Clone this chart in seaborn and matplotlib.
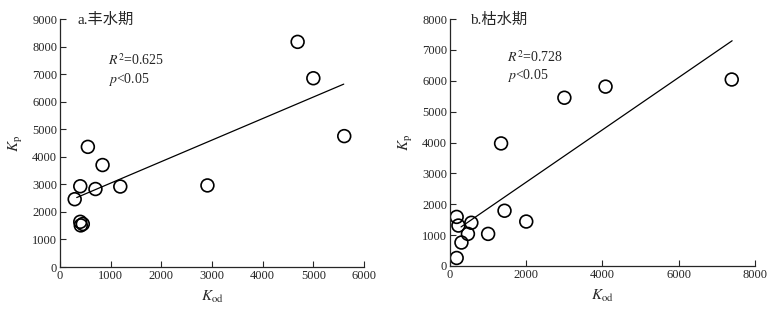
import numpy as np
import pandas as pd
import seaborn as sns
import matplotlib.pyplot as plt

# --- data --------------------------------------------------------------------
# a. wet season (丰水期)
kod_wet = [290, 400, 400, 410, 450, 550, 700, 840, 1190, 2910, 4690, 5000, 5610]
kp_wet = [2460, 2930, 1640, 1510, 1560, 4360, 2830, 3700, 2920, 2960, 8170, 6850, 4750]
fit_wet = (0.781, 2263)          # slope, intercept
fit_wet_range = (330, 5600)

# b. dry season (枯水期)
kod_dry = [175, 175, 220, 300, 470, 560, 1000, 1340, 1430, 2000, 3000, 4080, 7390]
kp_dry = [260, 1590, 1310, 760, 1040, 1400, 1040, 3970, 1790, 1440, 5450, 5810, 6040]
fit_dry = (0.848, 1020)
fit_dry_range = (290, 7400)

panels = [
    dict(x=kod_wet, y=kp_wet, fit=fit_wet, rng=fit_wet_range, title='a.丰水期',
         r2='0.625', xmax=6000, xstep=1000, ymax=9000,
         pos=[60 / 777, 46 / 313, 304 / 777, 248 / 313],
         title_xy=(0.056, 0.995), r2_xy=(0.158, 0.835), p_xy=(0.158, 0.758)),
    dict(x=kod_dry, y=kp_dry, fit=fit_dry, rng=fit_dry_range, title='b.枯水期',
         r2='0.728', xmax=8000, xstep=2000, ymax=8000,
         pos=[450 / 777, 47 / 313, 305 / 777, 247 / 313],
         title_xy=(0.066, 0.995), r2_xy=(0.187, 0.846), p_xy=(0.187, 0.773)),
]

sns.set_style('ticks')
plt.rcParams['font.family'] = ['Liberation Serif', 'Noto Sans CJK SC']
plt.rcParams['mathtext.fontset'] = 'stix'

fig = plt.figure(figsize=(7.77, 3.13), dpi=100)

for p in panels:
    ax = fig.add_axes(p['pos'])
    df = pd.DataFrame({'Kod': p['x'], 'Kp': p['y']})
    sns.scatterplot(data=df, x='Kod', y='Kp', ax=ax, s=85, marker='o',
                    facecolors='none', edgecolor='black', linewidth=1.2)
    slope, icpt = p['fit']
    xs = np.array(p['rng'])
    sns.lineplot(x=xs, y=slope * xs + icpt, ax=ax, color='black', linewidth=0.9)

    ax.set_xlim(0, p['xmax'])
    ax.set_ylim(0, p['ymax'])
    ax.set_xticks(np.arange(0, p['xmax'] + 1, p['xstep']))
    ax.set_yticks(np.arange(0, p['ymax'] + 1, 1000))
    ax.tick_params(direction='in', length=4, width=0.8, labelsize=9, pad=2)
    sns.despine(ax=ax)
    for side in ('left', 'bottom'):
        ax.spines[side].set_linewidth(0.9)

    ax.set_xlabel(r'$K_{\rm od}$', fontsize=11, labelpad=5)
    ax.set_ylabel(r'$K_{\rm p}$', fontsize=11, labelpad=5)

    ax.text(*p['title_xy'], p['title'], transform=ax.transAxes, fontsize=11,
            va='center', ha='left')
    ax.text(*p['r2_xy'], r'$R^{2}$=' + p['r2'], transform=ax.transAxes, fontsize=10,
            va='center', ha='left')
    ax.text(*p['p_xy'], r'$p$<0.05', transform=ax.transAxes, fontsize=10,
            va='center', ha='left')

fig.savefig('out.png', dpi=100)
